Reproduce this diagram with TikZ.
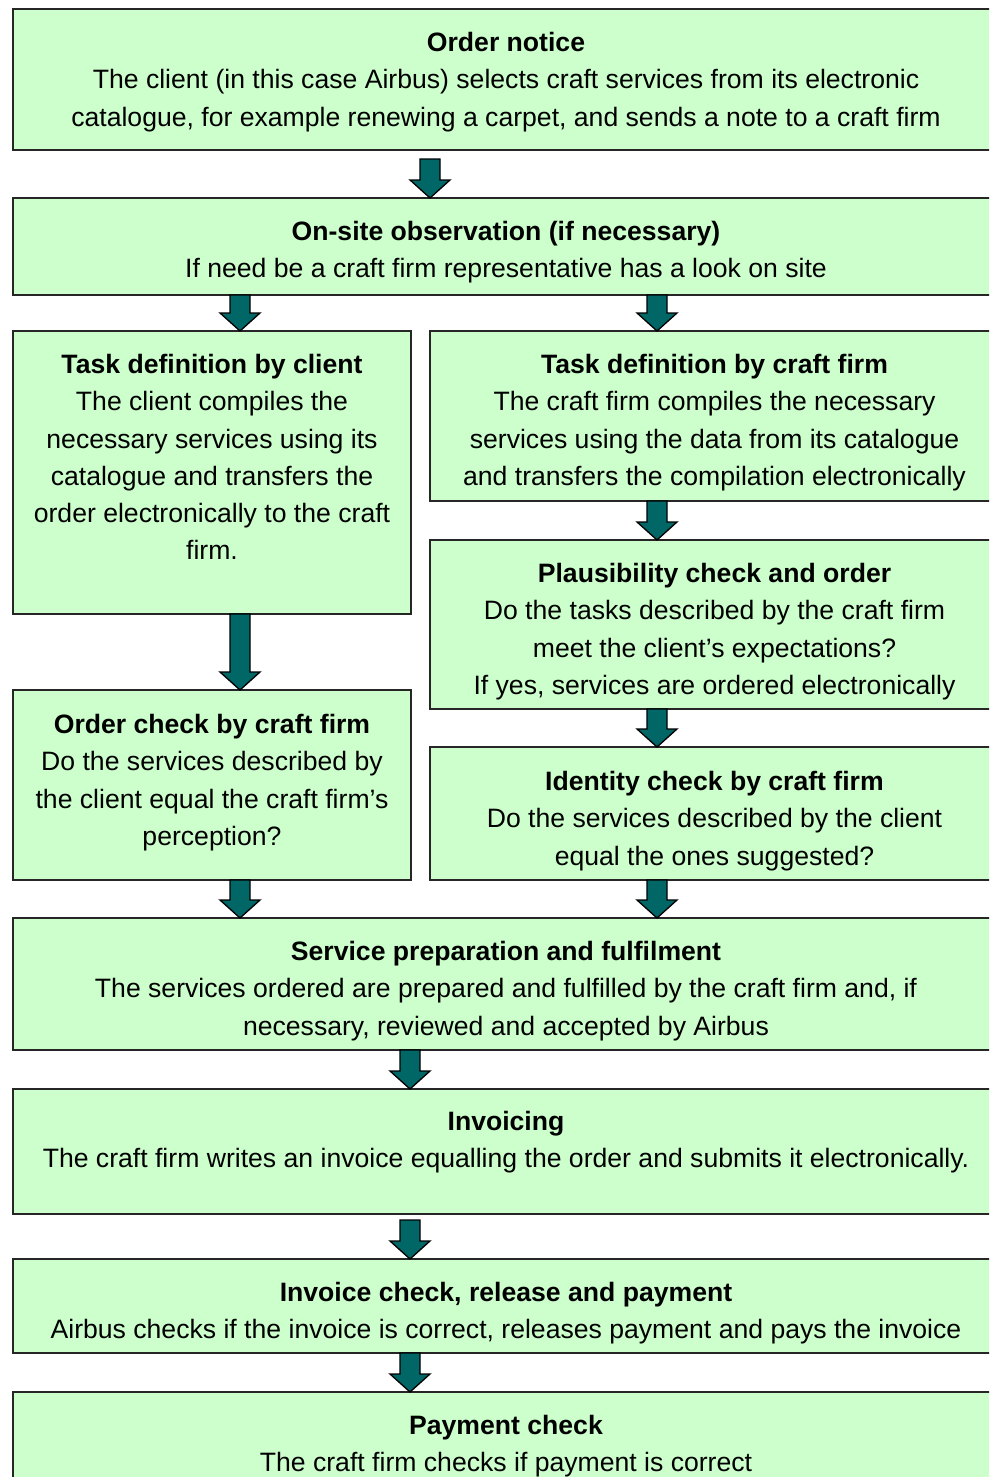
\documentclass[tikz,border=0pt]{standalone}
\usepackage{fontspec}
\setmainfont{Liberation Sans}
\usetikzlibrary{calc}
\definecolor{boxfill}{HTML}{CCFFCC}
\definecolor{arrfill}{HTML}{006666}
\newcommand\blockarr[4]{%
  \draw[arr] let \p1=($(#1.south -| #3)+(0,#4)$), \p2=(#2.north -| #3) in
   (\x1-10pt,\y1) -- (\x1+10pt,\y1) -- (\x1+10pt,\y2+18pt) -- (\x1+20pt,\y2+18pt)
   -- (\x2,\y2) -- (\x1-20pt,\y2+18pt) -- (\x1-10pt,\y2+18pt) -- cycle;}
\begin{document}
\begin{tikzpicture}[x=1pt,y=-1pt,
  box/.style={draw=black!85, line width=1.6pt, fill=boxfill, rectangle, inner sep=0pt, outer sep=0pt, anchor=north west},
  txt/.style={anchor=north, inner sep=0pt, align=center, font=\fontsize{26.6}{37.3}\selectfont},
  arr/.style={draw=black, line width=1.3pt, fill=arrfill, line join=miter}]
\useasboundingbox (0,0) rectangle (989,1477);
\clip (0,0) rectangle (989,1477);
\coordinate (cA) at (430,0);
\coordinate (cL) at (240,0);
\coordinate (cR) at (657,0);
\coordinate (cB) at (410,0);
% boxes
\node[box, minimum width=986pt, minimum height=141pt] (b1) at (13,9) {};
\node[box, minimum width=986pt, minimum height=97pt] (b2) at (13,198) {};
\node[box, minimum width=398pt, minimum height=283pt] (b3L) at (13,331) {};
\node[box, minimum width=569pt, minimum height=170pt] (b3R) at (430,331) {};
\node[box, minimum width=569pt, minimum height=169pt] (b4R) at (430,540) {};
\node[box, minimum width=569pt, minimum height=133pt] (b5R) at (430,747) {};
\node[box, minimum width=398pt, minimum height=190pt] (b4L) at (13,690) {};
\node[box, minimum width=986pt, minimum height=132pt] (b6) at (13,918) {};
\node[box, minimum width=986pt, minimum height=125pt] (b7) at (13,1089) {};
\node[box, minimum width=986pt, minimum height=94pt] (b8) at (13,1259) {};
\node[box, minimum width=986pt, minimum height=108pt] (b9) at (13,1392) {};
% texts
\node[txt] (t1) at ($(b1.north)+(0,23)$) {\textbf{Order notice}\\The client (in this case Airbus) selects craft services from its electronic\\catalogue, for example renewing a carpet, and sends a note to a craft firm};
\node[txt] (t2) at ($(b2.north)+(0,23)$) {\textbf{On-site observation (if necessary)}\\If need be a craft firm representative has a look on site};
\node[txt] (t3L) at ($(b3L.north)+(0,23)$) {\textbf{Task definition by client}\\The client compiles the\\necessary services using its\\catalogue and transfers the\\order electronically to the craft\\firm.};
\node[txt] (t3R) at ($(b3R.north)+(0,23)$) {\textbf{Task definition by craft firm}\\The craft firm compiles the necessary\\services using the data from its catalogue\\and transfers the compilation electronically};
\node[txt] (t4R) at ($(b4R.north)+(0,23)$) {\textbf{Plausibility check and order}\\Do the tasks described by the craft firm\\meet the client’s expectations?\\If yes, services are ordered electronically};
\node[txt] (t5R) at ($(b5R.north)+(0,24)$) {\textbf{Identity check by craft firm}\\Do the services described by the client\\equal the ones suggested?};
\node[txt] (t4L) at ($(b4L.north)+(0,24)$) {\textbf{Order check by craft firm}\\Do the services described by\\the client equal the craft firm’s\\perception?};
\node[txt] (t6) at ($(b6.north)+(0,23)$) {\textbf{Service preparation and fulfilment}\\The services ordered are prepared and fulfilled by the craft firm and, if\\necessary, reviewed and accepted by Airbus};
\node[txt] (t7) at ($(b7.north)+(0,22)$) {\textbf{Invoicing}\\The craft firm writes an invoice equalling the order and submits it electronically.};
\node[txt] (t8) at ($(b8.north)+(0,23)$) {\textbf{Invoice check, release and payment}\\Airbus checks if the invoice is correct, releases payment and pays the invoice};
\node[txt] (t9) at ($(b9.north)+(0,23)$) {\textbf{Payment check}\\The craft firm checks if payment is correct};
% arrows
\blockarr{b1}{b2}{cA}{9}
\blockarr{b2}{b3L}{cL}{0}
\blockarr{b2}{b3R}{cR}{0}
\blockarr{b3R}{b4R}{cR}{0}
\blockarr{b3L}{b4L}{cL}{0}
\blockarr{b4R}{b5R}{cR}{0}
\blockarr{b4L}{b6}{cL}{0}
\blockarr{b5R}{b6}{cR}{0}
\blockarr{b6}{b7}{cB}{0}
\blockarr{b7}{b8}{cB}{6}
\blockarr{b8}{b9}{cB}{0}
\end{tikzpicture}
\end{document}
